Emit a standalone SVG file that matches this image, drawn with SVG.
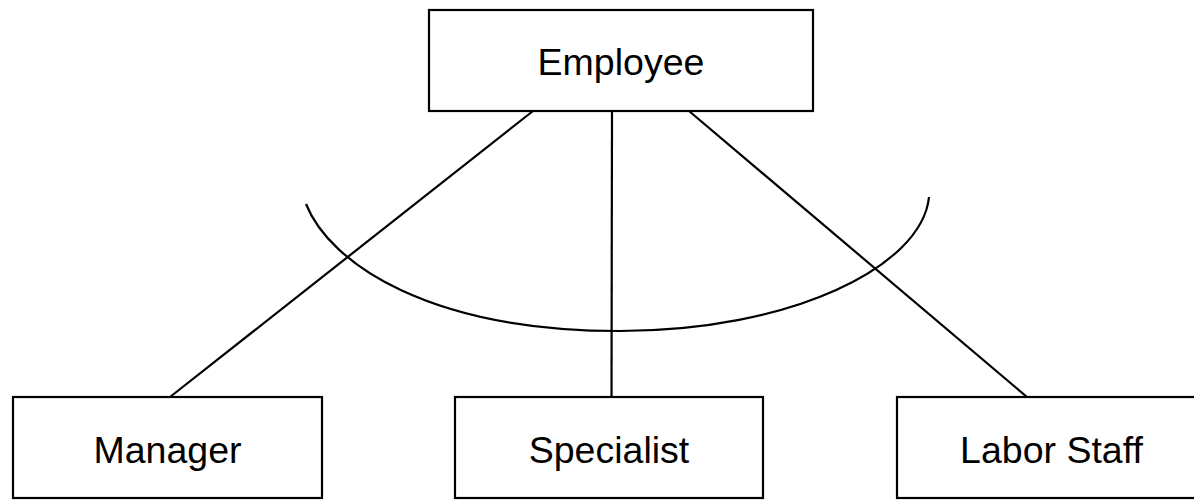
<svg xmlns="http://www.w3.org/2000/svg" width="1194" height="500" viewBox="0 0 1194 500">
<style>
.box{fill:#fff;stroke:#000;stroke-width:2.2}
.lbl{font-family:"Liberation Sans",Arial,Helvetica,sans-serif;font-size:37.5px;fill:#000;text-anchor:middle}
.conn{stroke:#000;stroke-width:2.2;fill:none}
</style>
<rect width="1194" height="500" fill="#fff"/>
<g id="connectors">
<line class="conn" x1="533" y1="111" x2="170" y2="397"/>
<line class="conn" x1="612" y1="111" x2="611.5" y2="397"/>
<line class="conn" x1="689" y1="111" x2="1027" y2="397"/>
<path class="conn" d="M306,204 C330,264 430,331 620,331 C790,331 922,267 929,197"/>
</g>
<g id="employee">
<rect class="box" x="429" y="10" width="384" height="101"/>
<text class="lbl" x="621" y="75">Employee</text>
</g>
<g id="manager">
<rect class="box" x="13" y="397" width="309" height="101"/>
<text class="lbl" x="167.5" y="463">Manager</text>
</g>
<g id="specialist">
<rect class="box" x="455" y="397" width="308" height="101"/>
<text class="lbl" x="609" y="463">Specialist</text>
</g>
<g id="labor-staff">
<rect class="box" x="897" y="397" width="309" height="101"/>
<text class="lbl" x="1051.5" y="463">Labor Staff</text>
</g>
</svg>
